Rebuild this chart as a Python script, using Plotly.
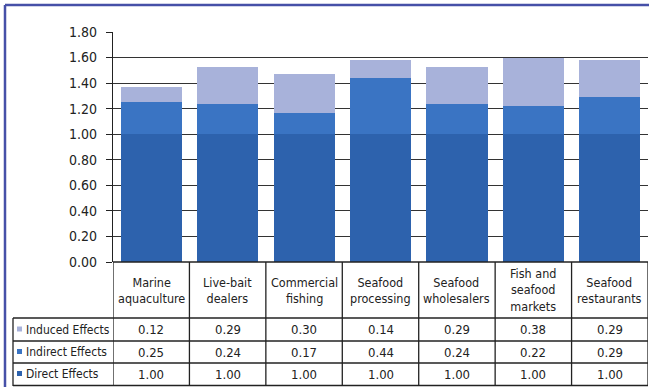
import plotly.graph_objects as go

categories = ["Marine<br>aquaculture", "Live-bait<br>dealers", "Commercial<br>fishing",
              "Seafood<br>processing", "Seafood<br>wholesalers",
              "Fish and<br>seafood<br>markets", "Seafood<br>restaurants"]
direct = [1.00, 1.00, 1.00, 1.00, 1.00, 1.00, 1.00]
indirect = [0.25, 0.24, 0.17, 0.44, 0.24, 0.22, 0.29]
induced = [0.12, 0.29, 0.30, 0.14, 0.29, 0.38, 0.29]
series_names = ["Induced Effects", "Indirect Effects", "Direct Effects"]
y_ticks = [0.0, 0.2, 0.4, 0.6, 0.8, 1.0, 1.2, 1.4, 1.6, 1.8]

C_DIRECT = "#2d62ad"
C_INDIRECT = "#3a74c3"
C_INDUCED = "#a8b2da"
FONT = "Liberation Sans Narrow, Arial Narrow, DejaVu Sans Condensed, Liberation Sans, Arial"
W, H = 649, 387

def py(pix):
    return 1 - pix / H

def px(pix):
    return pix / W

xidx = list(range(len(categories)))
fig = go.Figure()
fig.add_bar(x=xidx, y=direct, name="Direct Effects", marker=dict(color=C_DIRECT, line=dict(width=0)))
fig.add_bar(x=xidx, y=indirect, name="Indirect Effects", marker=dict(color=C_INDIRECT, line=dict(width=0)))
fig.add_bar(x=xidx, y=induced, name="Induced Effects", marker=dict(color=C_INDUCED, line=dict(width=0)))

y_top_pix, y_bot_pix = 32, 262
x_left_pix, x_right_pix = 113, 648

fig.update_layout(
    template="none",
    width=W, height=H, autosize=False, margin=dict(l=0, r=0, t=0, b=0, pad=0),
    paper_bgcolor="white", plot_bgcolor="white",
    barmode="stack", bargap=0.2, showlegend=False,
    font=dict(family=FONT, color="#222", size=12),
    xaxis=dict(domain=[px(x_left_pix), px(x_right_pix)], range=[-0.5, len(categories) - 0.5],
               showticklabels=False, showgrid=False, zeroline=False, automargin=False,
               showline=False, fixedrange=True, ticks=""),
    yaxis=dict(domain=[py(y_bot_pix), py(y_top_pix)], range=[0, 1.8],
               tickvals=y_ticks, ticktext=[f"{v:.2f}" for v in y_ticks],
               tickfont=dict(size=14, family=FONT, color="#222"),
               ticks="outside", ticklen=6, tickcolor="#222", tickwidth=1.3,
               ticklabelstandoff=6, automargin=False,
               showgrid=True, gridcolor="#333", gridwidth=1.4,
               showline=True, linecolor="#222", linewidth=1.3,
               zeroline=False, fixedrange=True),
)

shapes = []
LINE = dict(color="#222", width=1.3)
# table horizontal lines
for yp, x0 in [(262, x_left_pix), (318, 13), (341, 13), (363, 13), (385.5, 13)]:
    shapes.append(dict(type="line", xref="paper", yref="paper", x0=px(x0), x1=px(x_right_pix),
                       y0=py(yp), y1=py(yp), line=LINE))
# vertical lines between columns
for i in range(len(categories) + 1):
    shapes.append(dict(type="line", xref="x", yref="paper", x0=i - 0.5, x1=i - 0.5,
                       y0=py(262), y1=py(386), line=LINE))
shapes.append(dict(type="line", xref="paper", yref="paper", x0=px(13), x1=px(13),
                   y0=py(318), y1=py(386), line=LINE))
# blue frame
FRAME = dict(color="#4650a8", width=2.5)
shapes.append(dict(type="line", xref="paper", yref="paper", x0=px(5), x1=1,
                   y0=py(5), y1=py(5), line=FRAME))
shapes.append(dict(type="line", xref="paper", yref="paper", x0=px(5), x1=px(5),
                   y0=py(5), y1=0, line=FRAME))

annotations = []
for i, c in enumerate(categories):
    annotations.append(dict(x=i, y=py(290), xref="x", yref="paper", text=c, showarrow=False,
                            xanchor="center", yanchor="middle",
                            font=dict(size=12.5, family=FONT, color="#222"), align="center"))

row_centers = [329.5, 352, 374]
row_vals = [induced, indirect, direct]
row_cols = [C_INDUCED, C_INDIRECT, C_DIRECT]
for name, yc, vals, col in zip(series_names, row_centers, row_vals, row_cols):
    shapes.append(dict(type="rect", xref="paper", yref="paper", x0=px(17), x1=px(22),
                       y0=py(yc - 3), y1=py(yc + 2), fillcolor=col, line=dict(width=0)))
    annotations.append(dict(x=px(24), y=py(yc), xref="paper", yref="paper", text=name,
                            showarrow=False, xanchor="left", yanchor="middle",
                            font=dict(size=12, family=FONT, color="#222")))
    for i, v in enumerate(vals):
        annotations.append(dict(x=i, y=py(yc), xref="x", yref="paper", text=f"{v:.2f}",
                                showarrow=False, xanchor="center", yanchor="middle",
                                font=dict(size=13, family=FONT, color="#222")))

fig.update_layout(shapes=shapes, annotations=annotations)
fig.write_html("out.html", post_script="document.body.style.margin='0';")
